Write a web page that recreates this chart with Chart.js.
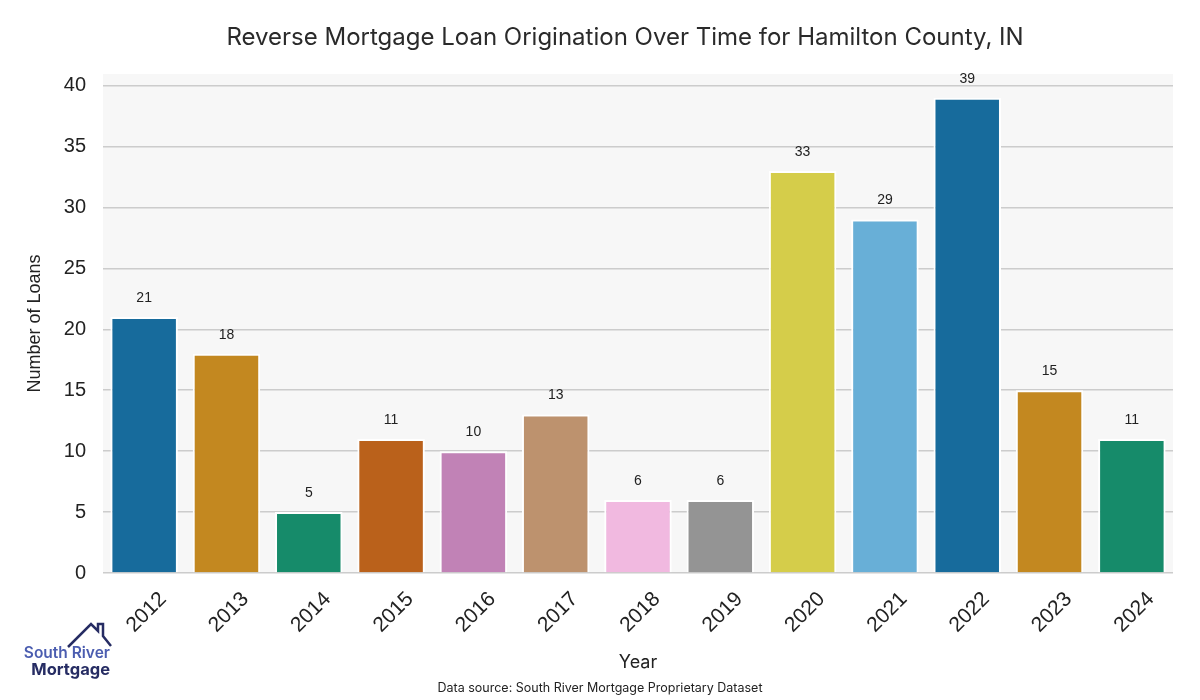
<!DOCTYPE html>
<html>
<head>
<meta charset="utf-8">
<script src="https://cdn.jsdelivr.net/npm/chart.js@4.4.1/dist/chart.umd.min.js"></script>
<style>
  html, body { margin: 0; padding: 0; background: #ffffff; }
  #wrap { width: 1200px; height: 700px; }
</style>
</head>
<body>
<div id="wrap"><canvas id="loanChart" width="1200" height="700"></canvas></div>
<script>
// Chart data
const years = ['2012', '2013', '2014', '2015', '2016', '2017', '2018', '2019', '2020', '2021', '2022', '2023', '2024'];
const loanCounts = [21, 18, 5, 11, 10, 13, 6, 6, 33, 29, 39, 15, 11];
const yTicks = [0, 5, 10, 15, 20, 25, 30, 35, 40];

// seaborn "colorblind" palette, desaturated like barplot does
const barColors = [
   '#176b9c', '#c38820', '#168b6a', '#ba611b', '#c182b6', '#bd926e',
   '#f1b9e0', '#949494', '#d5cd4a', '#68afd7', '#176b9c', '#c38820', '#168b6a'
];

const titleFont = "Inter, 'Noto Sans', sans-serif";
const plainFont = "'Liberation Sans', Arial, sans-serif";

// Light grey panel behind the bars
const panelBackground = {
   id: 'panelBackground',
   beforeDraw(chart) {
      const { ctx, chartArea } = chart;
      ctx.save();
      ctx.fillStyle = '#f7f7f7';
      ctx.fillRect(chartArea.left, chartArea.top, chartArea.right - chartArea.left, chartArea.bottom - chartArea.top);
      ctx.restore();
   }
};

// Value labels, title, source note and logo
const extras = {
   id: 'extras',
   afterDatasetsDraw(chart) {
      const { ctx } = chart;
      const meta = chart.getDatasetMeta(0);
      ctx.save();
      ctx.fillStyle = '#222222';
      ctx.font = '14px ' + plainFont;
      ctx.textAlign = 'center';
      ctx.textBaseline = 'middle';
      meta.data.forEach((bar, i) => {
         ctx.fillText(String(loanCounts[i]), bar.x, bar.y - 19);
      });
      ctx.restore();
   },
   afterDraw(chart) {
      const { ctx } = chart;
      ctx.save();
      ctx.fillStyle = '#2a2a2a';
      ctx.textAlign = 'center';
      ctx.textBaseline = 'middle';
      ctx.font = '24px ' + titleFont;
      ctx.fillText('Reverse Mortgage Loan Origination Over Time for Hamilton County, IN', 625, 38);

      ctx.font = '12.5px ' + titleFont;
      ctx.fillStyle = '#222222';
      ctx.fillText('Data source: South River Mortgage Proprietary Dataset', 600, 688);

      // logo: house outline
      ctx.strokeStyle = '#262c63';
      ctx.lineWidth = 2.5;
      ctx.lineJoin = 'miter';
      ctx.beginPath();
      ctx.moveTo(68, 647);
      ctx.lineTo(91, 624);
      ctx.lineTo(98, 631);
      ctx.lineTo(98, 624);
      ctx.lineTo(103, 624);
      ctx.lineTo(103, 636);
      ctx.lineTo(111, 646);
      ctx.stroke();

      ctx.textAlign = 'right';
      ctx.font = '600 15.5px ' + titleFont;
      ctx.fillStyle = '#4b5db0';
      ctx.fillText('South River', 110, 653);
      ctx.font = 'bold 16.5px ' + titleFont;
      ctx.fillStyle = '#262c63';
      ctx.fillText('Mortgage', 110, 670);
      ctx.restore();
   }
};

const ctx = document.getElementById('loanChart').getContext('2d');
const loanChart = new Chart(ctx, {
   type: 'bar',
   data: {
      labels: years,
      datasets: [{
         label: 'Number of Loans',
         data: loanCounts,
         backgroundColor: barColors,
         borderColor: '#ffffff',
         borderWidth: 2,
         borderSkipped: 'start',
         barPercentage: 0.82,
         categoryPercentage: 1.0
      }]
   },
   options: {
      responsive: false,
      animation: false,
      layout: { padding: { left: 20, right: 27, top: 74, bottom: 27 } },
      plugins: {
         legend: { display: false },
         title: { display: false },
         tooltip: { enabled: false }
      },
      scales: {
         x: {
            grid: { display: false, drawTicks: false },
            border: { display: false },
            ticks: {
               color: '#222222',
               font: { family: plainFont, size: 21 },
               minRotation: 45,
               maxRotation: 45,
               labelOffset: 19,
               padding: 14
            },
            title: {
               display: true,
               text: 'Year',
               color: '#222222',
               font: { family: titleFont, size: 18 },
               padding: { top: 0, bottom: 0 }
            },
            afterFit(scale) { scale.height = 100; }
         },
         y: {
            min: 0,
            max: 40.95,
            afterBuildTicks(scale) {
               scale.ticks = yTicks.map(v => ({ value: v }));
            },
            grid: { color: '#cccccc', lineWidth: 1.5, drawTicks: false },
            border: { display: false },
            ticks: {
               color: '#222222',
               font: { family: plainFont, size: 20 },
               padding: 17
            },
            title: {
               display: true,
               text: 'Number of Loans',
               color: '#222222',
               font: { family: plainFont, size: 18 },
               padding: { top: 4, bottom: 0 }
            },
            afterFit(scale) { scale.width = 83; }
         }
      }
   },
   plugins: [panelBackground, extras]
});
</script>
</body>
</html>
